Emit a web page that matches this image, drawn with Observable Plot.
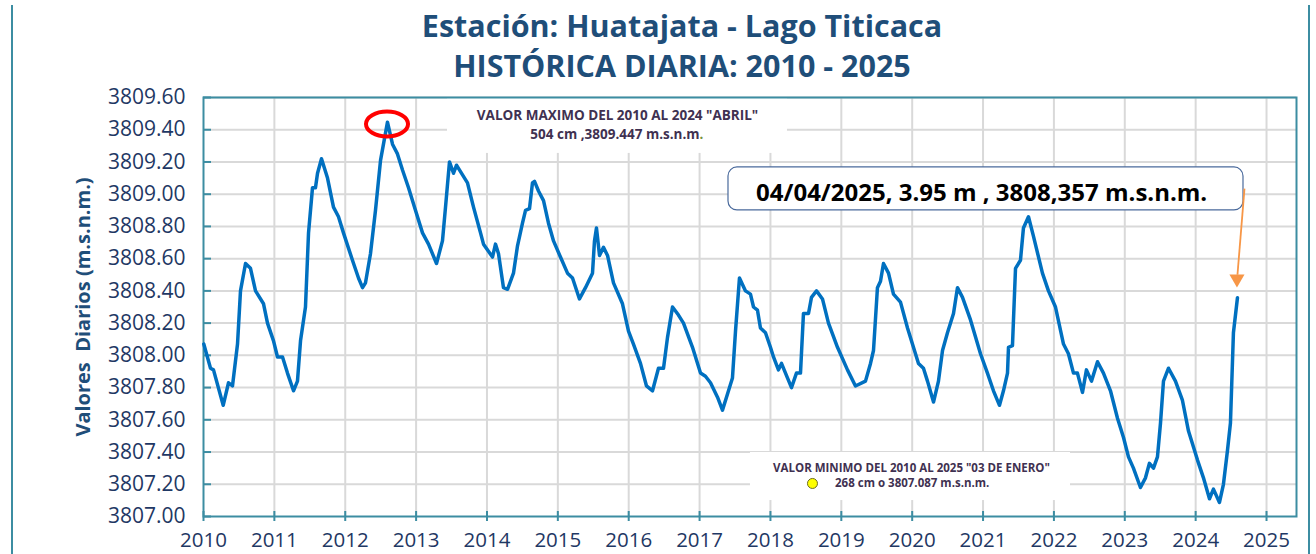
<!DOCTYPE html>
<html>
<head>
<meta charset="utf-8">
<script src="https://cdn.jsdelivr.net/npm/d3@7"></script>
<script src="https://cdn.jsdelivr.net/npm/@observablehq/plot@0.6"></script>
<style>
  html, body { margin: 0; padding: 0; background: #fff; }
  #wrap { position: relative; width: 1316px; height: 554px; overflow: hidden; background: #fff; font-family: "Open Sans", sans-serif; }
  .border { position: absolute; left: 11px; top: 5px; width: 1295px; height: 620px; border-left: 2px solid #3c8da2; border-right: 2px solid #3c8da2; }
  .title { position: absolute; left: 182px; width: 1000px; text-align: center; color: #1f4e79; font-weight: 700; font-size: 30.5px; line-height: 1; }
  .ylab { position: absolute; left: 82px; top: 307px; transform: translate(-50%, -50%) rotate(-90deg); white-space: pre; color: #1f4e79; font-weight: 700; font-size: 20px; }
  #chart { position: absolute; left: 0; top: 0; }
</style>
</head>
<body>
<div id="wrap">
  <div class="border"></div>
  <div class="title" style="top:10px">Estación: Huatajata - Lago Titicaca</div>
  <div class="title" style="top:50px">HISTÓRICA DIARIA: 2010 - 2025</div>
  <div class="ylab">Valores  Diarios (m.s.n.m.)</div>
  <div id="chart"></div>
</div>
<script>
// ---- Data (decimal year, level in m.s.n.m.) ----
const years = [
  2010.004, 2010.099, 2010.141, 2010.278, 2010.353, 2010.409, 2010.480, 2010.522, 2010.593, 2010.663,
  2010.734, 2010.847, 2010.903, 2010.988, 2011.044, 2011.115, 2011.185, 2011.270, 2011.326, 2011.369,
  2011.439, 2011.482, 2011.538, 2011.580, 2011.609, 2011.665, 2011.750, 2011.834, 2011.905, 2011.975,
  2012.102, 2012.187, 2012.244, 2012.286, 2012.356, 2012.427, 2012.498, 2012.596, 2012.667, 2012.737,
  2012.808, 2012.893, 2012.991, 2013.090, 2013.175, 2013.288, 2013.372, 2013.415, 2013.471, 2013.528,
  2013.570, 2013.725, 2013.810, 2013.909, 2013.951, 2014.078, 2014.120, 2014.163, 2014.233, 2014.290,
  2014.374, 2014.431, 2014.501, 2014.544, 2014.600, 2014.642, 2014.671, 2014.727, 2014.798, 2014.868,
  2014.939, 2015.037, 2015.136, 2015.207, 2015.305, 2015.390, 2015.489, 2015.517, 2015.545, 2015.588,
  2015.644, 2015.701, 2015.785, 2015.912, 2015.997, 2016.067, 2016.166, 2016.251, 2016.336, 2016.420,
  2016.491, 2016.547, 2016.618, 2016.702, 2016.773, 2016.900, 2017.013, 2017.083, 2017.154, 2017.253,
  2017.323, 2017.394, 2017.464, 2017.507, 2017.563, 2017.648, 2017.718, 2017.761, 2017.817, 2017.859,
  2017.930, 2018.000, 2018.043, 2018.113, 2018.156, 2018.240, 2018.297, 2018.367, 2018.424, 2018.466,
  2018.537, 2018.579, 2018.650, 2018.734, 2018.819, 2018.946, 2019.087, 2019.200, 2019.341, 2019.412,
  2019.454, 2019.510, 2019.553, 2019.595, 2019.666, 2019.736, 2019.835, 2019.934, 2020.018, 2020.089,
  2020.159, 2020.216, 2020.301, 2020.371, 2020.428, 2020.498, 2020.583, 2020.639, 2020.710, 2020.823,
  2020.964, 2021.062, 2021.147, 2021.232, 2021.288, 2021.345, 2021.359, 2021.415, 2021.458, 2021.528,
  2021.570, 2021.641, 2021.711, 2021.838, 2021.923, 2022.022, 2022.135, 2022.205, 2022.276, 2022.332,
  2022.403, 2022.459, 2022.530, 2022.615, 2022.699, 2022.798, 2022.897, 2022.982, 2023.052, 2023.122,
  2023.221, 2023.292, 2023.348, 2023.405, 2023.461, 2023.504, 2023.546, 2023.617, 2023.715, 2023.814,
  2023.899, 2024.026, 2024.110, 2024.195, 2024.251, 2024.336, 2024.392, 2024.449, 2024.491, 2024.533,
  2024.590
];
const levels = [
  3808.07, 3807.92, 3807.91, 3807.69, 3807.83, 3807.81, 3808.07, 3808.40, 3808.57, 3808.54,
  3808.40, 3808.32, 3808.20, 3808.09, 3807.99, 3807.99, 3807.89, 3807.78, 3807.84, 3808.09,
  3808.30, 3808.76, 3809.04, 3809.04, 3809.13, 3809.22, 3809.10, 3808.92, 3808.86, 3808.76,
  3808.59, 3808.48, 3808.42, 3808.45, 3808.63, 3808.90, 3809.21, 3809.447, 3809.31, 3809.25,
  3809.15, 3809.04, 3808.90, 3808.76, 3808.69, 3808.57, 3808.71, 3808.92, 3809.20, 3809.13,
  3809.18, 3809.07, 3808.92, 3808.76, 3808.69, 3808.61, 3808.69, 3808.63, 3808.42, 3808.41,
  3808.51, 3808.68, 3808.82, 3808.90, 3808.91, 3809.07, 3809.08, 3809.02, 3808.96, 3808.82,
  3808.71, 3808.61, 3808.51, 3808.48, 3808.35, 3808.42, 3808.51, 3808.71, 3808.79, 3808.62,
  3808.67, 3808.62, 3808.45, 3808.32, 3808.15, 3808.07, 3807.95, 3807.81, 3807.78, 3807.92,
  3807.92, 3808.11, 3808.30, 3808.25, 3808.20, 3808.05, 3807.89, 3807.87, 3807.83, 3807.74,
  3807.66, 3807.76, 3807.86, 3808.15, 3808.48, 3808.40, 3808.38, 3808.30, 3808.28, 3808.17,
  3808.14, 3808.05, 3807.99, 3807.91, 3807.95, 3807.86, 3807.80, 3807.89, 3807.89, 3808.26,
  3808.26, 3808.36, 3808.40, 3808.35, 3808.20, 3808.05, 3807.91, 3807.81, 3807.84, 3807.95,
  3808.03, 3808.42, 3808.46, 3808.57, 3808.51, 3808.38, 3808.33, 3808.17, 3808.05, 3807.95,
  3807.92, 3807.84, 3807.71, 3807.84, 3808.03, 3808.14, 3808.26, 3808.42, 3808.36, 3808.22,
  3808.01, 3807.89, 3807.78, 3807.69, 3807.78, 3807.89, 3808.05, 3808.06, 3808.54, 3808.59,
  3808.79, 3808.86, 3808.74, 3808.51, 3808.40, 3808.30, 3808.07, 3808.01, 3807.89, 3807.89,
  3807.77, 3807.91, 3807.84, 3807.96, 3807.89, 3807.78, 3807.61, 3807.49, 3807.37, 3807.30,
  3807.18, 3807.24, 3807.33, 3807.30, 3807.37, 3807.58, 3807.84, 3807.92, 3807.84, 3807.72,
  3807.53, 3807.35, 3807.24, 3807.11, 3807.17, 3807.087, 3807.20, 3807.41, 3807.58, 3808.14,
  3808.357
];
const xTicks = [2010, 2011, 2012, 2013, 2014, 2015, 2016, 2017, 2018, 2019, 2020, 2021, 2022, 2023, 2024, 2025];
const yTicks = [3807.0, 3807.2, 3807.4, 3807.6, 3807.8, 3808.0, 3808.2, 3808.4, 3808.6, 3808.8, 3809.0, 3809.2, 3809.4, 3809.6];

// ---- Annotations (positions in data units) ----
const maxBox = [{x1: 2013.443, x2: 2018.240, y1: 3809.253, y2: 3809.6}];
const maxText = [{x: 2015.842, y: 3809.488, t: "VALOR MAXIMO DEL 2010 AL 2024 \"ABRIL\""}];
const maxText2 = [{x: 2017.0, y: 3809.370, t: "504 cm ,3809.447 m.s.n.m"}];
const maxEllipse = [{x1: 2012.300, x2: 2012.893, y1: 3809.355, y2: 3809.510}];
const valueBox = [{x1: 2017.408, x2: 2024.675, y1: 3808.899, y2: 3809.166}];
const valueText = [{x: 2020.98, y: 3809.004, t: "04/04/2025, 3.95 m , 3808,357 m.s.n.m."}];
const arrowLine = [{x1: 2024.689, y1: 3809.035, x2: 2024.590, y2: 3808.50}];
const arrowHead = [{x: 2024.583, y: 3808.475}];
const minBox = [{x1: 2017.718, x2: 2022.234, y1: 3807.099, y2: 3807.397}];
const minText = [
  {x: 2019.99, y: 3807.298, t: "VALOR MINIMO DEL 2010 AL 2025 \"03 DE ENERO\""},
  {x: 2020.00, y: 3807.205, t: "268 cm o 3807.087 m.s.n.m."}
];
const minDot = [{x: 2018.593, y: 3807.205}];

const data = years.map((x, i) => ({x, y: levels[i]}));
const teal = "#3c8da2";
const grid = "#d9d9d9";
const lab = "#1f3864";

const chart = Plot.plot({
  width: 1316,
  height: 554,
  marginTop: 97,
  marginBottom: 38,
  marginLeft: 203,
  marginRight: 20,
  style: {fontFamily: "Open Sans", background: "transparent", color: lab, overflow: "visible"},
  x: {domain: [2010, 2025.423]},
  y: {domain: [3807, 3809.6]},
  marks: [
    Plot.ruleX(xTicks.slice(1), {stroke: grid, strokeWidth: 2}),
    Plot.ruleY(yTicks.slice(1), {stroke: grid, strokeWidth: 2}),
    Plot.rect(maxBox, {x1: "x1", x2: "x2", y1: "y1", y2: "y2", fill: "white"}),
    Plot.rect(minBox, {x1: "x1", x2: "x2", y1: "y1", y2: "y2", fill: "white"}),
    Plot.frame({stroke: teal, strokeWidth: 2}),
    Plot.axisY(yTicks, {tickSize: -8, stroke: teal, strokeWidth: 2, tickFormat: () => "", label: null}),
    Plot.axisY(yTicks, {tickSize: 0, tickPadding: 18, tickFormat: d3.format(".2f"), fontSize: 21, fill: lab, label: null}),
    Plot.axisX(xTicks, {tickSize: 5, stroke: teal, strokeWidth: 2, tickFormat: () => "", label: null}),
    Plot.axisX(xTicks, {tickSize: -5, stroke: teal, strokeWidth: 2, tickFormat: () => "", label: null}),
    Plot.axisX(xTicks, {tickSize: 0, tickPadding: 16, tickFormat: d3.format("d"), fontSize: 20.5, fill: lab, label: null}),
    Plot.line(data, {x: "x", y: "y", stroke: "#0070c0", strokeWidth: 3.5, strokeLinejoin: "round"}),
    Plot.rect(maxEllipse, {x1: "x1", x2: "x2", y1: "y1", y2: "y2", fill: "none", stroke: "#ff0000", strokeWidth: 4, rx: 21, ry: 12.5}),
    Plot.text(maxText, {x: "x", y: "y", text: "t", fontSize: 13.5, fontWeight: 700, fill: "#3f3151"}),
    Plot.text(maxText2, {x: "x", y: "y", text: "t", fontSize: 13.5, fontWeight: 700, fill: "#3f3151", textAnchor: "end"}),
    Plot.text(maxText2, {x: "x", y: "y", text: () => ".", fontSize: 13.5, fontWeight: 700, fill: "#77933c", textAnchor: "start"}),
    Plot.rect(valueBox, {x1: "x1", x2: "x2", y1: "y1", y2: "y2", fill: "white", stroke: "#4a6a9c", strokeWidth: 1.2, rx: 9}),
    Plot.text(valueText, {x: "x", y: "y", text: "t", fontSize: 24, fontWeight: 700, fill: "#000"}),
    Plot.link(arrowLine, {x1: "x1", y1: "y1", x2: "x2", y2: "y2", stroke: "#f79646", strokeWidth: 1.8}),
    Plot.dot(arrowHead, {x: "x", y: "y", symbol: "triangle", r: 5.6, rotate: 180, fill: "#f79646", stroke: "none"}),
    Plot.text(minText, {x: "x", y: "y", text: "t", fontSize: 11.5, fontWeight: 700, fill: "#3f3151"}),
    Plot.dot(minDot, {x: "x", y: "y", r: 5, fill: "#ffff00", stroke: "#6b6b20", strokeWidth: 1})
  ]
});
document.getElementById("chart").appendChild(chart);
</script>
</body>
</html>
